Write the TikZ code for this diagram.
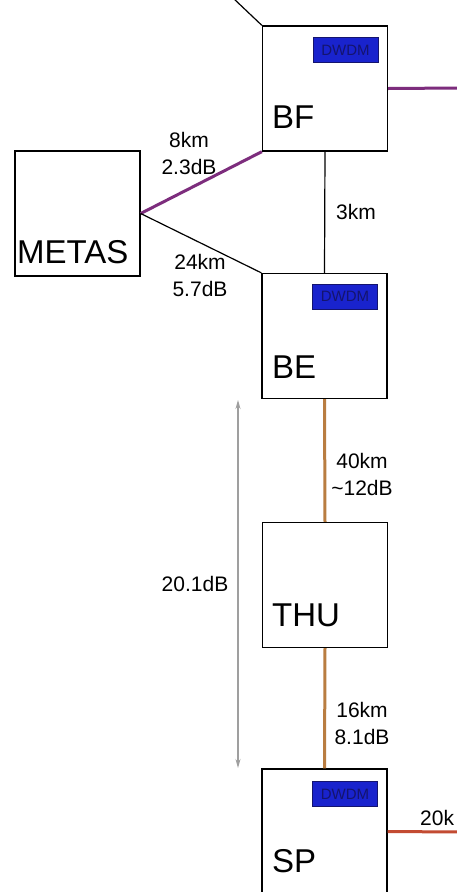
\documentclass[tikz,border=0pt]{standalone}
\usepackage{fontspec}
\setmainfont{Liberation Sans}
\usepackage{tikz}
\usetikzlibrary{arrows.meta,positioning}
\definecolor{fibrepurple}{RGB}{125,45,125}
\definecolor{fibreorange}{RGB}{185,125,65}
\definecolor{fibrered}{RGB}{195,75,50}
\definecolor{dwdmblue}{RGB}{25,35,205}
\definecolor{dwdmtext}{RGB}{20,20,110}

\begin{document}
\begin{tikzpicture}[
    x=1pt, y=-1pt,
    every node/.style={font=\fontsize{21}{27}\selectfont},
    site/.style={draw, line width=1.3pt, minimum width=125pt, minimum height=125pt, inner sep=0pt},
    sitename/.style={anchor=base west, inner sep=0pt, font=\fontsize{33}{36}\selectfont},
    dwdm/.style={draw=dwdmtext, fill=dwdmblue, text=dwdmtext, minimum width=65pt, minimum height=25pt, inner sep=0pt, font=\fontsize{15}{15}\selectfont},
    span/.style={align=center, inner sep=1pt},
    plain/.style={line width=1.2pt},
    purplefibre/.style={line width=3pt, fibrepurple},
    orangefibre/.style={line width=3pt, fibreorange},
    redfibre/.style={line width=3pt, fibrered},
    budget/.style={{Stealth[length=9pt,width=5pt]}-{Stealth[length=9pt,width=5pt]}, line width=1.1pt, gray!75}
]
\useasboundingbox (0,0) rectangle (457,892);
\clip (0,0) rectangle (457,892);
\fill[white] (0,0) rectangle (457,892);

\node[site] (bf) at (325,88.5) {};
\node[site] (metas) at (77.5,213.5) {};
\node[site] (be) at (324.5,336) {};
\node[site] (thu) at (325,585) {};
\node[site] (sp) at (324.5,831.5) {};

\node[sitename] (bfname) at (272,128) {BF};
\node[sitename] (metasname) at (17,263) {METAS};
\node[sitename] (bename) at (272,378) {BE};
\node[sitename] (thuname) at (272,626) {THU};
\node[sitename] (spname) at (272,872) {SP};

\node[dwdm, below left=12pt and 10pt of bf.north east, anchor=north east] (bfdwdm) {DWDM};
\node[dwdm, below left=11pt and 10pt of be.north east, anchor=north east] (bedwdm) {DWDM};
\node[dwdm, below left=13pt and 10pt of sp.north east, anchor=north east] (spdwdm) {DWDM};

\coordinate (north) at (233,-2);
\coordinate (east) at (460,88);
\coordinate (south) at (460,832);
\coordinate (budgettop) at (238,400);
\coordinate (budgetbottom) at (238,768);

\draw[plain] (north) -- (bf.north west);
\draw[purplefibre] (bf.east) -- (east);
\draw[purplefibre] (metas.east) -- (bf.south west);
\draw[plain] (metas.east) -- (be.north west);
\draw[plain] (bf.south) -- (be.north);
\draw[orangefibre] (be.south) -- (thu.north);
\draw[orangefibre] (thu.south) -- (sp.north);
\draw[redfibre] (sp.east) -- (south);
\draw[budget] (budgettop) -- (budgetbottom);

\node[span] (bfmetas) at (189,153) {8km\\2.3dB};
\node[span] (bemetas) at (200,275) {24km\\5.7dB};
\node[span] (bfbe) at (356,212) {3km};
\node[span] (bethu) at (362,474) {40km\\\textasciitilde12dB};
\node[span] (thusp) at (362,723) {16km\\8.1dB};
\node[span] (total) at (195,584) {20.1dB};
\node[span, anchor=west] (spout) at (419,818) {20k};
\end{tikzpicture}
\end{document}
